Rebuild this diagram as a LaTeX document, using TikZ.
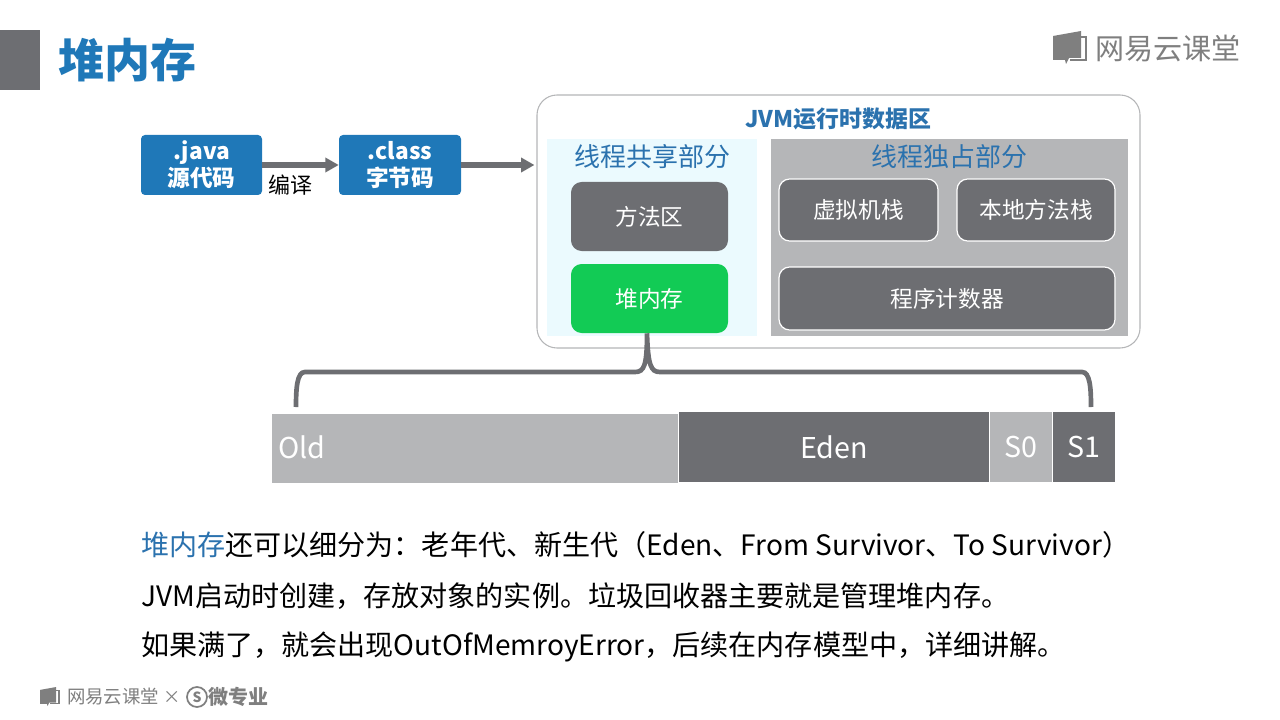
\documentclass[tikz,border=0pt]{standalone}
\usepackage{fontspec}
\setmainfont{Noto Sans CJK SC}
\usetikzlibrary{arrows.meta}
\definecolor{mygray}{HTML}{6D6E72}
\definecolor{mylight}{HTML}{B5B6B8}
\definecolor{myblue}{HTML}{1F78B8}
\definecolor{mytitle}{HTML}{2B72AE}
\definecolor{mygreen}{HTML}{12CB55}
\definecolor{mysky}{HTML}{EBFAFE}
\definecolor{mylogo}{HTML}{7F7F7F}
\tikzset{
  sz/.style 2 args={minimum width=#1*0.75pt,minimum height=#2*0.75pt,inner sep=0pt},
  srcbox/.style={fill=myblue,rounded corners=3pt,text=white,align=center,font=\fontsize{17}{20.5}\selectfont\bfseries},
  areabox/.style={fill=mygray,rounded corners=8pt,text=white,font=\fontsize{17}{20}\selectfont},
  threadbox/.style={areabox,draw=white,line width=0.9pt},
  barbox/.style={text=white,font=\fontsize{21.5}{26}\selectfont},
  panel/.style={text=mytitle,font=\fontsize{19.5}{24}\selectfont},
  flow/.style={draw=mygray,line width=3.8pt,-{Triangle[length=10pt,width=10.5pt]}},
  para/.style={anchor=west,inner sep=0pt,font=\fontsize{21.05}{26}\selectfont},
  logotext/.style={text=mylogo,inner sep=0pt},
  logo/.pic={
    \fill[mylogo](0,5)--(28,0)--(28,27)--(16,27)--(13,33)--(12,29)--(0,29)--cycle;
    \draw[mylogo,line width=1pt](28,6)--(33,6)--(33,29)--(17,29);
  }
}
\begin{document}
\begin{tikzpicture}[x=0.75pt,y=-0.75pt]
\useasboundingbox (0,0) rectangle (1280,720);

\fill[mygray](0,30)rectangle(40,90);
\node[anchor=west,inner sep=0pt,text=myblue,font=\fontsize{34.5}{40}\selectfont\bfseries] (title) at (58,60) {堆内存};

\pic at (1053,31) {logo};
\node[logotext,font=\fontsize{21.8}{26}\selectfont] (brand) at (1168,49) {网易云课堂};

\node[srcbox,sz={121}{60}] (java) at (201.5,165) {.java\\源代码};
\node[srcbox,sz={122}{60}] (class) at (400,165) {.class\\字节码};
\node[inner sep=0pt,font=\fontsize{16.5}{20}\selectfont] (compile) at (290.5,185) {编译};

\node[draw=mylight,line width=0.8pt,fill=white,rounded corners=15pt,sz={603}{253}] (jvm) at (838.5,221.5) {};
\node[inner sep=0pt,text=mytitle,font=\fontsize{17.2}{20}\selectfont\bfseries] (jvmtitle) at (838,119) {JVM运行时数据区};

\node[fill=mysky,sz={210}{197}] (shared) at (652,237.5) {};
\node[fill=mylight,sz={357}{197}] (own) at (949.5,237.5) {};
\node[panel,inner sep=0pt] (sharedtitle) at (652,156.5) {线程共享部分};
\node[panel,inner sep=0pt] (owntitle) at (949,156.5) {线程独占部分};

\node[areabox,sz={157}{69}] (method) at (649.5,216.5) {方法区};
\node[areabox,fill=mygreen,sz={157}{69}] (heap) at (649.5,298.5) {堆内存};
\node[threadbox,sz={159}{62}] (vmstack) at (858.5,210) {虚拟机栈};
\node[threadbox,sz={158}{62}] (native) at (1036,210) {本地方法栈};
\node[threadbox,sz={336}{63}] (pc) at (947,298.5) {程序计数器};

\draw[flow] (java.east)--(class.west);
\draw[flow,shorten >=1.5pt] (class.east)--(class.east -| jvm.west);

\node[barbox,fill=mylight,sz={406}{69},text depth=0pt] (old) at (475,448.5) {};
\node[barbox,anchor=west,inner sep=0pt] (oldtext) at (278,447) {Old};
\node[barbox,fill=mygray,sz={310}{70}] (eden) at (834,447) {Eden};
\node[barbox,fill=mylight,sz={62}{70}] (szero) at (1021,447) {S0};
\node[barbox,fill=mygray,sz={62}{70}] (sone) at (1084,447) {S1};

\coordinate (braceL) at (296,407);
\coordinate (braceR) at (1091,407);
\draw[mygray,line width=3.5pt] (braceL) .. controls (296,388) and (297,372) .. (305,372)--(635,372) .. controls (644,372) and (647,366) .. (heap.south -| 647,0)
  (heap.south -| 647,0) .. controls (648,366) and (651,372) .. (660,372)--(1082,372) .. controls (1090,372) and (1091,388) .. (braceR);

\node[para] (lineA) at (141,545) {\textcolor{mytitle}{堆内存}还可以细分为：老年代、新生代（Eden、From Survivor、To Survivor）};
\node[para] (lineB) at (141,596) {JVM启动时创建，存放对象的实例。垃圾回收器主要就是管理堆内存。};
\node[para] (lineC) at (141,647) {如果满了，就会出现OutOfMemroyError，后续在内存模型中，详细讲解。};

\pic[scale=0.58] at (40,687) {logo};
\node[logotext,font=\fontsize{13.8}{16}\selectfont] (brandB) at (113,697) {网易云课堂};
\node[logotext,font=\fontsize{13}{16}\selectfont] (times) at (172,697) {×};
\node[draw=mylogo,line width=1.3pt,circle,logotext,minimum size=15pt,font=\fontsize{10.5}{12}\selectfont\bfseries] (micro) at (197,697) {S};
\node[logotext,font=\fontsize{15}{18}\selectfont\bfseries] (major) at (238,697) {微专业};
\end{tikzpicture}
\end{document}
